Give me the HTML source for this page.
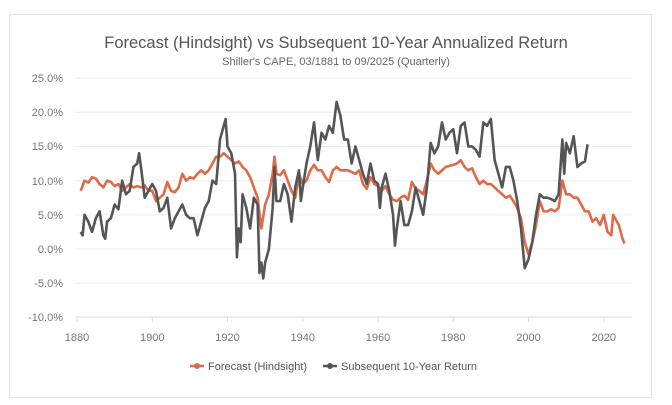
<!DOCTYPE html>
<html><head><meta charset="utf-8"><style>
html,body{margin:0;padding:0;background:#fff;width:672px;height:405px;overflow:hidden}
svg{display:block}
text{font-family:"Liberation Sans","DejaVu Sans",sans-serif}
</style></head><body>
<svg width="672" height="405" viewBox="0 0 672 405">
<rect x="9.5" y="14.5" width="642" height="383" fill="#fff" stroke="#e4e4e4" stroke-width="1"/>
<text x="336" y="48" text-anchor="middle" font-size="16.5" fill="#555">Forecast (Hindsight) vs Subsequent 10-Year Annualized Return</text>
<text x="336" y="65" text-anchor="middle" font-size="11" fill="#666">Shiller's CAPE, 03/1881 to 09/2025 (Quarterly)</text>
<g stroke="#ececec" stroke-width="1">
<line x1="75" x2="632" y1="78" y2="78"/><line x1="75" x2="632" y1="112.3" y2="112.3"/>
<line x1="75" x2="632" y1="146.5" y2="146.5"/><line x1="75" x2="632" y1="180.7" y2="180.7"/>
<line x1="75" x2="632" y1="214.9" y2="214.9"/><line x1="75" x2="632" y1="249" y2="249"/>
<line x1="75" x2="632" y1="283.2" y2="283.2"/>
</g>
<line x1="75" x2="632" y1="317" y2="317" stroke="#ddd"/>
<g stroke="#ddd"><line x1="77" x2="77" y1="317" y2="322"/><line x1="152.3" x2="152.3" y1="317" y2="322"/><line x1="227.5" x2="227.5" y1="317" y2="322"/><line x1="302.8" x2="302.8" y1="317" y2="322"/><line x1="378" x2="378" y1="317" y2="322"/><line x1="453.3" x2="453.3" y1="317" y2="322"/><line x1="528.5" x2="528.5" y1="317" y2="322"/><line x1="603.8" x2="603.8" y1="317" y2="322"/></g>
<g font-size="11" fill="#777" text-anchor="end">
<text x="63" y="82">25.0%</text><text x="63" y="116">20.0%</text><text x="63" y="150">15.0%</text>
<text x="63" y="185">10.0%</text><text x="63" y="219">5.0%</text><text x="63" y="253">0.0%</text>
<text x="63" y="287">-5.0%</text><text x="63" y="321">-10.0%</text>
</g>
<g font-size="11" fill="#777" text-anchor="middle">
<text x="77" y="341">1880</text><text x="152.3" y="341">1900</text><text x="227.5" y="341">1920</text>
<text x="302.8" y="341">1940</text><text x="378" y="341">1960</text><text x="453.3" y="341">1980</text>
<text x="528.5" y="341">2000</text><text x="603.8" y="341">2020</text>
</g>
<g transform="translate(77,249) scale(3.7625,-6.84)" fill="none" stroke-linejoin="round">
<polyline vector-effect="non-scaling-stroke" stroke="#de6b48" stroke-width="2.6" points="1,8.5 2,10 3,9.7 4,10.5 5,10.3 6,9.5 7,9 8,10 9,9.8 10,9.2 11,9.5 12,8.5 13,9 14,9.5 15,9 16,9.2 17,9 18,9.3 19,8.5 20,8.5 21,7 22,7.5 23,8 24,9.8 25,8.5 26,8.3 27,9 28,11 29,10 30,10.5 31,10.3 32,11 33,11.5 34,11 35,11.5 36,12.5 37,13.5 38,13.5 39,14 40,13.5 41,13 42,12.5 43,12.8 44,12 45,11.5 46,10.5 47,9 48,7.5 49,3 50,6.5 51,8 52,11 52.5,13.5 53,11 54,10.8 55,11.5 56,10 57,8.5 58,7.5 59,11 60,9.5 61,10 62,11.5 63,12.3 64,11.5 65,11.5 66,10.5 67,9.8 68,11.5 69,12 70,11.5 72,11.5 74,11 75,11.5 76,9.5 77,8.8 78,10.5 79,9.5 80,9.2 81,8.5 82,9.2 83,8 84,7.2 85,7 86,7.5 87,7.8 88,7.2 89,9.8 90,8.8 91,8.5 92,8 93,10 94,12.5 95,11.5 96,11 98,12 100,12.3 101,12.5 102,13 103,12 104,11.5 105,11.8 106,10.5 107,9.5 108,10 109,9.5 110,9.5 111,9 112,8.5 113,8 114,7.5 115,7.8 116,7 117,6 118,4.5 119,1 120,-0.8 121,1 122,3.5 123,7 124,5.5 125,5.5 126,5.8 127,5.5 128,6 129,10 130,8 131,8 132,7.5 133,7.5 134,6.5 135,5.5 136,5.5 137,4 138,4.5 139,3.5 140,5 141,2.5 142,2 142.5,5 143,4.5 144,3.5 145,1.5 145.5,0.8"/>
<polyline vector-effect="non-scaling-stroke" stroke="#555" stroke-width="2.6" points="1,2.5 1.5,2 2,5 3,4 4,2.5 5,4.5 6,5.5 7,2 7.5,1.5 8,4 9,4.5 10,6.5 11,5.8 12,10 13,8 14,8.5 15,12 16,12.5 16.5,14 17,12 18,7.5 19,8.5 20,9.5 21,8.5 22,5.5 23,6 24,7.5 25,3 26,4.5 27,5.5 28,6.5 29,5 30,4.5 31,4.5 32,2 33,4 34,6 35,7 36,10 37,9.5 38,16 39,18 39.5,19 40,15 41,14 42,11 42.5,-1.2 43,3 43.5,1 44,8 45,6 46,3 47,7.5 48,6.5 48.5,-3.5 49,-2 49.5,-4.3 50,-2 51,0 52,6 52.5,12 53,7 54,7 55,9.5 56,8 57,4 58,9 59,11.5 59.5,7 60,9 61,12.5 62,15 63,18.5 64,13 65,17 66,16 67,18 68,17 69,21.5 70,19.5 71,16 72,16 73,12.5 74,15 75,13 76,11 77,9.5 78,12.5 79,10 80,9.5 80.5,6 81,9 82,11 83,8.5 84,5 84.5,0.5 85,3 86,7 87,3.5 88,3.5 89,5.5 90,9 91,7 92,5 93,9 94,15.5 95,14 96,15 97,18.5 98,16 99,17 100,17.5 101,14 102,18 103,18.5 104,15 105,15 106,14.5 107,13.5 108,18.5 109,18 110,19 111,13 112,11 113,9 114,12 115,12 116,10 117,7 118,3 119,-2.8 120,-1.5 121,1 122,5 123,8 124,7.5 125,7.5 126,7.3 127,7 128,8 129,16 129.5,11 130,15.5 131,14 132,16.5 133,12 134,12.5 135,12.8 135.7,15.3"/>
</g>
<line x1="190" x2="204" y1="366" y2="366" stroke="#de6b48" stroke-width="2.5"/><circle cx="197" cy="366" r="3" fill="#de6b48"/>
<text x="208" y="370" font-size="11" fill="#555">Forecast (Hindsight)</text>
<line x1="323" x2="337" y1="366" y2="366" stroke="#555" stroke-width="2.5"/><circle cx="330" cy="366" r="3" fill="#555"/>
<text x="341" y="370" font-size="11" fill="#555">Subsequent 10-Year Return</text>
</svg>
</body></html>
